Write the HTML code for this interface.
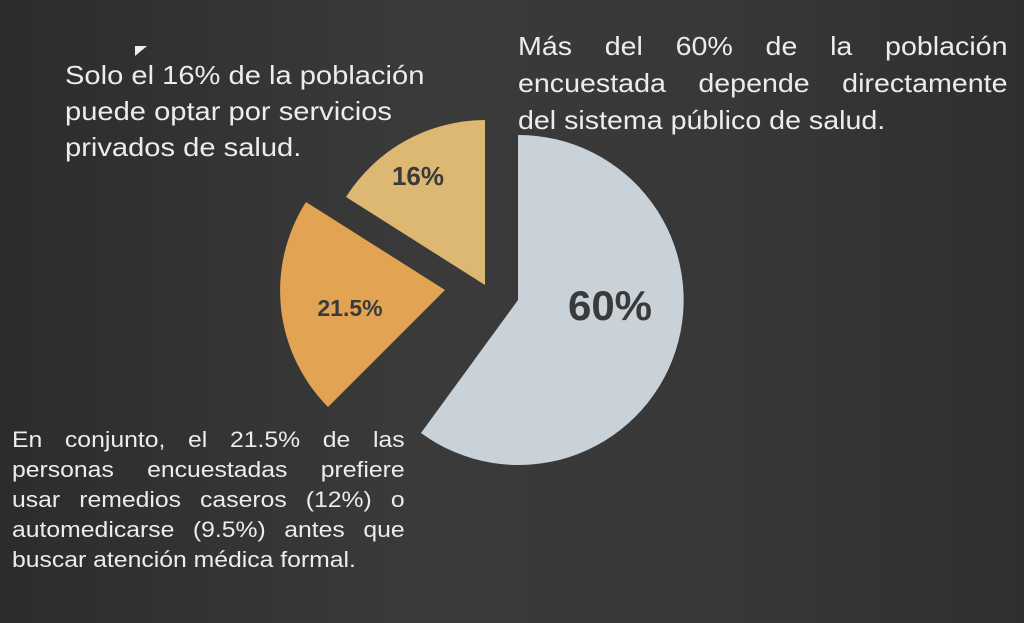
<!DOCTYPE html>
<html><head><meta charset="utf-8"><style>
body{margin:0;width:1024px;height:623px;overflow:hidden;background:#363636;font-family:"Liberation Sans",sans-serif;position:relative}
.t{position:absolute;color:#ececec;transform-origin:0 0}
.j{display:block;text-align:justify;text-align-last:justify;white-space:nowrap}
.l{display:block;text-align:left;white-space:nowrap}
</style></head><body>
<div style="position:absolute;inset:0;background:linear-gradient(90deg,#2c2c2c 0%,#3a3a3a 40%,#383838 70%,#2f2f2f 100%)"></div>
<svg width="1024" height="623" style="position:absolute;left:0;top:0">
<path d="M518,300 L518,135 A165,165 0 1,1 421,433 Z" fill="#c9d2d8"/>
<path d="M485,285 L485,120 A165,165 0 0,0 346,197 Z" fill="#dcb873"/>
<path d="M445,290 L306,202 A165,165 0 0,0 328,407 Z" fill="#e2a452"/>
<text x="610" y="320" text-anchor="middle" font-family="Liberation Sans" font-weight="bold" font-size="42" fill="#3a3a3a">60%</text>
<text x="418" y="185" text-anchor="middle" font-family="Liberation Sans" font-weight="bold" font-size="26" fill="#3a3a3a">16%</text>
<text x="350" y="316" text-anchor="middle" font-family="Liberation Sans" font-weight="bold" font-size="23" fill="#3a3a3a">21.5%</text>
<path d="M135,46 L147,46 L135,56Z" fill="#eee"/>
</svg>
<div class="t" style="left:518px;top:28px;width:445px;font-size:26px;line-height:37px;transform:scaleX(1.1)"><span class="j">Más del 60% de la población</span><span class="j">encuestada depende directamente</span><span class="l">del sistema público de salud.</span></div>
<div class="t" style="left:65px;top:57px;width:370px;font-size:26px;line-height:36px;transform:scaleX(1.12)"><span class="l">Solo el 16% de la población</span><span class="l">puede optar por servicios</span><span class="l">privados de salud.</span></div>
<div class="t" style="left:12px;top:425px;width:349px;font-size:22px;line-height:30px;transform:scaleX(1.125)"><span class="j">En conjunto, el 21.5% de las</span><span class="j">personas encuestadas prefiere</span><span class="j">usar remedios caseros (12%) o</span><span class="j">automedicarse (9.5%) antes que</span><span class="l">buscar atención médica formal.</span></div>
</body></html>
